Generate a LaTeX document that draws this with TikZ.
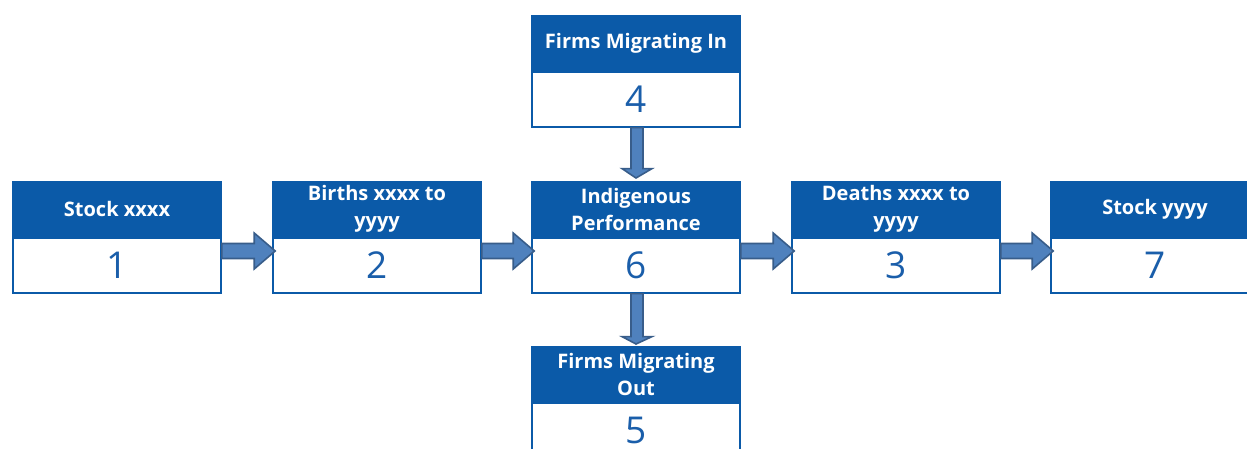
\documentclass[tikz,border=0pt]{standalone}
\usepackage{fontspec}
\newfontfamily\hdrfont{Open Sans}
\usetikzlibrary{calc}
\definecolor{hdrblue}{RGB}{11,90,168}
\definecolor{numblue}{RGB}{26,94,170}
\definecolor{arrfill}{RGB}{79,129,189}
\definecolor{arredge}{RGB}{56,93,138}
\tikzset{
  hdr/.style={anchor=north west, minimum width=209pt, minimum height=55pt, inner sep=0pt,
    fill=hdrblue, draw=hdrblue, line width=1pt, text=white, align=center,
    font=\hdrfont\bfseries\fontsize{20}{27}\selectfont},
  body/.style={anchor=north, minimum width=208pt, minimum height=55pt, inner sep=0pt,
    fill=white, draw=hdrblue, line width=1.6pt, text=numblue,
    font=\hdrfont\fontsize{37}{40}\selectfont},
  arr/.style={fill=arrfill, draw=arredge, line width=1.6pt, line join=miter}
}
\newcommand\blk[5]{%
  \node[hdr] (h#1) at (#2,#3) {#4};
  \node[body] (n#1) at (h#1.south) {#5};
}
\newcommand\harr[2]{%
  \draw[arr] ([yshift=-6.5pt]n#1.north east) -- ([xshift=-18pt,yshift=-6.5pt]n#2.north west)
    -- ([xshift=-18pt,yshift=4pt]n#2.north west) -- ([xshift=3pt,yshift=-14pt]n#2.north west)
    -- ([xshift=-18pt,yshift=-32pt]n#2.north west) -- ([xshift=-18pt,yshift=-21.5pt]n#2.north west)
    -- ([yshift=-21.5pt]n#1.north east) -- cycle;}
\begin{document}
\begin{tikzpicture}[x=1pt,y=-1pt]
\useasboundingbox[fill=white] (0,0) rectangle (1247,448);
\blk{1}{12}{181}{Stock xxxx}{1}
\blk{2}{272}{181}{Births xxxx to\\yyyy}{2}
\blk{6}{531}{181}{Indigenous\\Performance}{6}
\blk{3}{791}{181}{Deaths xxxx to\\yyyy}{3}
\blk{7}{1050}{181}{Stock yyyy}{7}
\blk{4}{531}{15}{Firms Migrating In}{4}
\blk{5}{531}{346}{Firms Migrating\\Out}{5}
\harr{1}{2}
\harr{2}{6}
\harr{6}{3}
\harr{3}{7}
% vertical arrows
\draw[arr] ([xshift=-5pt]n4.south) -- ([xshift=-5pt,yshift=-41pt]n4.south)
  -- ([xshift=-14pt,yshift=-41pt]n4.south) -- ([yshift=3pt]h6.north)
  -- ([xshift=16pt,yshift=-41pt]n4.south) -- ([xshift=7pt,yshift=-41pt]n4.south)
  -- ([xshift=7pt]n4.south) -- cycle;
\draw[arr] ([xshift=-5pt]n6.south) -- ([xshift=-5pt,yshift=-43pt]n6.south)
  -- ([xshift=-14pt,yshift=-43pt]n6.south) -- ([yshift=2pt]h5.north)
  -- ([xshift=16pt,yshift=-43pt]n6.south) -- ([xshift=7pt,yshift=-43pt]n6.south)
  -- ([xshift=7pt]n6.south) -- cycle;
\end{tikzpicture}
\end{document}
